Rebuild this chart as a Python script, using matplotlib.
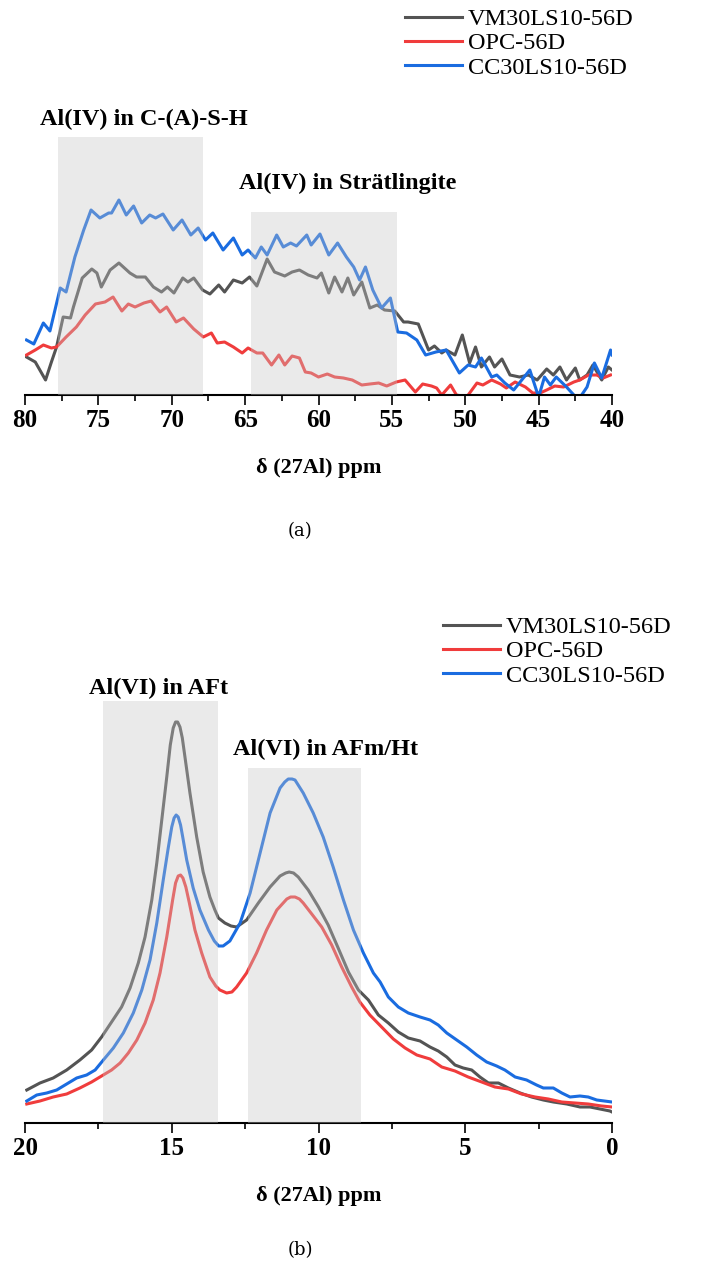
import matplotlib
matplotlib.use("Agg")
import matplotlib.pyplot as plt
from matplotlib.ticker import MultipleLocator

plt.rcParams['font.family'] = ['Liberation Serif', 'DejaVu Serif']

# ---------------- data: panel (a) Al(IV) region ----------------
a_vm_x = [79.9, 79.3, 78.6, 78.2, 77.85, 77.4, 76.9, 76.7, 76.1, 75.45, 75.1, 74.8, 74.2, 73.6, 72.85, 72.4,
          71.8, 71.25, 70.7, 70.3, 69.85, 69.25, 68.9, 68.5, 67.9, 67.4, 66.8, 66.4, 65.8, 65.2, 64.7, 64.2,
          63.5, 63.0, 62.3, 61.8, 61.3, 60.7, 60.1, 59.8, 59.3, 58.9, 58.4, 58.0, 57.6, 57.05, 56.5, 56.0,
          55.5, 54.8, 54.2, 53.9, 53.2, 52.5, 52.1, 51.6, 51.3, 50.7, 50.2, 49.7, 49.3, 48.9, 48.35, 48.0,
          47.5, 46.95, 46.3, 45.7, 45.1, 44.45, 44.0, 43.55, 43.1, 42.5, 42.2, 41.7, 41.3, 40.7, 40.25, 40.0]
a_vm_y = [38, 33, 15, 33, 48, 78, 77, 88, 117, 126, 122, 108, 125, 132, 122, 118,
          118, 108, 103, 108, 102, 117, 113, 117, 105, 101, 110, 103, 115, 112, 118, 109,
          136, 123, 119, 123, 125, 120, 117, 122, 102, 118, 103, 117, 100, 113, 87, 90,
          85, 84, 73, 73, 71, 45, 49, 42, 45, 40, 60, 32, 48, 28, 38, 28,
          36, 20, 18, 20, 15, 26, 20, 28, 15, 27, 15, 20, 30, 15, 28, 25]

a_opc_x = [79.9, 79.3, 78.75, 78.2, 77.85, 77.2, 76.5, 75.9, 75.2, 74.55, 74.0, 73.4, 72.96, 72.5, 71.9,
           71.4, 70.8, 70.35, 69.7, 69.2, 68.5, 67.85, 67.3, 66.9, 66.4, 65.8, 65.2, 64.8, 64.2, 63.8,
           63.2, 62.7, 62.3, 61.8, 61.3, 60.9, 60.5, 60.0, 59.4, 58.9, 58.3, 57.7, 57.05, 56.5, 55.9,
           55.35, 54.7, 54.1, 53.4, 52.9, 52.3, 51.95, 51.6, 51.0, 50.6, 49.9, 49.2, 48.8, 48.2, 47.6,
           47.2, 46.6, 45.9, 45.4, 44.9, 44.45, 43.9, 43.3, 42.6, 42.2, 41.6, 41.05, 40.6, 40.1]
a_opc_y = [40, 45, 50, 47, 48, 58, 68, 80, 91, 93, 98, 84, 91, 88, 92,
           94, 83, 88, 73, 77, 66, 58, 62, 52, 53, 48, 42, 47, 42, 42,
           30, 40, 30, 39, 37, 23, 22, 18, 21, 18, 17, 15, 10, 11, 12,
           9, 13, 15, 3, 11, 9, 7, 0, 10, 0, -2, 12, 10, 15, 11,
           7, 13, 8, 2, 2, 5, 9, 8, 13, 15, 20, 20, 17, 20]

a_cc_x = [79.9, 79.4, 78.75, 78.3, 77.6, 77.2, 76.6, 76.0, 75.5, 74.9, 74.3, 74.1, 73.6, 73.1, 72.6,
          72.05, 71.5, 71.1, 70.6, 69.9, 69.3, 68.7, 68.2, 67.7, 67.2, 66.5, 65.8, 65.2, 64.8, 64.3,
          63.9, 63.5, 62.85, 62.4, 61.9, 61.5, 60.8, 60.5, 59.9, 59.3, 58.7, 58.1, 57.6, 57.2, 56.8,
          56.3, 55.7, 55.1, 54.6, 54.0, 53.3, 52.7, 52.0, 51.3, 50.4, 49.8, 49.3, 48.9, 48.2, 47.85,
          47.3, 46.7, 46.15, 45.6, 45.0, 44.6, 44.2, 43.8, 43.1, 42.6, 42.3, 41.7, 41.2, 40.7, 40.1, 40.0]
a_cc_y = [55, 51, 72, 64, 107, 103, 138, 165, 185, 177, 182, 182, 195, 180, 189,
          172, 180, 177, 181, 165, 175, 160, 167, 155, 162, 145, 157, 140, 145, 137,
          148, 140, 160, 148, 152, 149, 160, 150, 161, 140, 152, 138, 128, 115, 128,
          105, 87, 97, 63, 62, 55, 40, 43, 45, 22, 30, 28, 37, 18, 20,
          12, 5, 15, 25, -2, 18, 10, 18, 8, 0, -5, 8, 32, 17, 45, 40]

# ---------------- data: panel (b) Al(VI) region ----------------
b_vm_x = [19.94, 19.49, 19.04, 18.58, 18.13, 17.73, 17.39, 17.05, 16.71, 16.42, 16.14, 15.91, 15.68,
          15.51, 15.34, 15.17, 15.05, 14.95, 14.87, 14.8, 14.72, 14.64, 14.55, 14.38, 14.15, 13.93,
          13.7, 13.53, 13.41, 13.19, 12.98, 12.79, 12.45, 12.05, 11.65, 11.31, 11.12, 11.0, 10.85,
          10.69, 10.35, 10.0, 9.67, 9.33, 8.98, 8.64, 8.3, 7.96, 7.62, 7.28, 6.94, 6.54, 6.2, 5.92,
          5.63, 5.35, 5.07, 4.78, 4.5, 4.21, 3.87, 3.53, 3.13, 2.74, 2.34, 2.0, 1.54, 1.09, 0.75,
          0.41, 0.07, 0.0]
b_vm_y = [33, 40, 45, 53, 63, 73, 86, 101, 116, 135, 160, 186, 223,
          260, 303, 346, 378, 395, 401, 401, 396, 385, 366, 330, 286, 251,
          226, 213, 205, 200, 197, 196, 203, 220, 236, 247, 250, 251, 250,
          246, 233, 216, 198, 175, 151, 133, 123, 108, 100, 91, 85, 82, 76, 72,
          66, 58, 55, 53, 46, 40, 40, 35, 30, 26, 23, 21, 19, 16, 16,
          14, 12, 11]

b_opc_x = [19.94, 19.49, 19.04, 18.58, 18.13, 17.73, 17.39, 17.05, 16.76, 16.48, 16.19, 15.91, 15.63,
           15.4, 15.17, 14.97, 14.87, 14.78, 14.7, 14.62, 14.52, 14.4, 14.21, 13.98, 13.7, 13.5,
           13.36, 13.13, 12.95, 12.79, 12.45, 12.11, 11.77, 11.42, 11.08, 10.95, 10.8, 10.65, 10.52,
           10.23, 9.89, 9.55, 9.21, 8.87, 8.59, 8.25, 7.85, 7.45, 7.05, 6.65, 6.2, 5.8, 5.35, 4.9,
           4.44, 3.99, 3.53, 3.08, 2.62, 2.17, 1.71, 1.26, 0.81, 0.35, 0.0]
b_opc_y = [19, 22, 26, 29, 35, 41, 47, 53, 60, 70, 83, 100, 123,
           150, 186, 223, 240, 247, 248, 245, 236, 220, 193, 170, 146, 137,
           133, 130, 131, 136, 150, 170, 193, 213, 224, 226, 226, 224, 220,
           209, 196, 178, 156, 136, 121, 108, 96, 84, 75, 68, 64, 56, 52, 46,
           41, 36, 34, 29, 26, 24, 21, 20, 19, 17, 16]

b_cc_x = [19.94, 19.6, 19.26, 18.92, 18.58, 18.24, 17.9, 17.61, 17.33, 16.99, 16.65, 16.31, 16.02,
          15.74, 15.51, 15.29, 15.12, 15.0, 14.92, 14.85, 14.78, 14.7, 14.62, 14.49, 14.27, 14.04,
          13.75, 13.55, 13.4, 13.25, 13.02, 12.67, 12.33, 11.99, 11.65, 11.31, 11.15, 11.03, 10.9,
          10.8, 10.52, 10.18, 9.84, 9.5, 9.15, 8.81, 8.47, 8.13, 7.9, 7.62, 7.28, 6.94, 6.54, 6.2,
          5.92, 5.63, 5.29, 4.95, 4.61, 4.27, 3.93, 3.65, 3.3, 2.91, 2.57, 2.34, 2.0, 1.71, 1.43,
          1.09, 0.81, 0.52, 0.0]
b_cc_y = [22, 28, 30, 33, 39, 45, 48, 53, 63, 75, 90, 110, 133,
          163, 200, 243, 275, 296, 305, 308, 306, 298, 285, 263, 235, 213,
          193, 182, 177, 177, 182, 200, 230, 270, 310, 335, 341, 344, 344,
          343, 330, 310, 286, 256, 223, 193, 170, 150, 141, 126, 116, 110, 106, 103,
          98, 90, 83, 76, 68, 61, 57, 53, 46, 43, 38, 35, 35, 30, 26,
          27, 26, 23, 21]

series_labels = ['VM30LS10-56D', 'OPC-56D', 'CC30LS10-56D']
series_colors = ['#545454', '#f03c3c', '#1a6ce0']

a_regions = [(77.75, 67.9, 258), (64.6, 54.65, 183)]
b_regions = [(17.35, 13.42, 422), (12.4, 8.55, 355)]
a_notes = [("Al(IV) in C-(A)-S-H", 71.9, 270), ("Al(IV) in Strätlingite", 58.0, 206)]
b_notes = [("Al(VI) in AFt", 15.45, 429), ("Al(VI) in AFm/Ht", 9.75, 368)]

W, H = 702, 1273
fig = plt.figure(figsize=(W / 100, H / 100), dpi=100)

def make_ax(top_px, bottom_px, xlim, ylim, major, minor):
    ax = fig.add_axes([25 / W, 1 - bottom_px / H, 587 / W, (bottom_px - top_px) / H])
    ax.set_xlim(*xlim)
    ax.set_ylim(*ylim)
    for s in ('left', 'right', 'top'):
        ax.spines[s].set_visible(False)
    ax.spines['bottom'].set_linewidth(1.5)
    ax.set_yticks([])
    ax.xaxis.set_major_locator(MultipleLocator(major))
    ax.xaxis.set_minor_locator(MultipleLocator(minor))
    ax.tick_params(axis='x', which='major', length=7, width=1.2, direction='out', pad=3,
                   labelsize=18)
    ax.tick_params(axis='x', which='minor', length=4, width=1.2, direction='out')
    for lab in ax.get_xticklabels():
        lab.set_fontweight('bold')
    ax.set_xlabel('δ (27Al) ppm', fontsize=16, fontweight='bold', labelpad=19)
    return ax

# panel (a)
ax1 = make_ax(100, 395, (80, 40), (0, 295), 5, 2.5)
for xs, ys, lab, col in zip([a_vm_x, a_opc_x, a_cc_x], [a_vm_y, a_opc_y, a_cc_y],
                            series_labels, series_colors):
    ax1.plot(xs, ys, color=col, lw=2.2, label=lab, zorder=2, solid_joinstyle='round')
for x0, x1, top in a_regions:
    ax1.axvspan(x0, x1, ymin=0, ymax=top / 295, color=(199 / 255,) * 3, alpha=0.36, lw=0, zorder=3)
for txt, x, y in a_notes:
    ax1.text(x, y, txt, fontsize=17.5, fontweight='bold', ha='center', va='baseline', zorder=4)

# panel (b)
ax2 = make_ax(690, 1123, (20, 0), (0, 433), 5, 2.5)
for xs, ys, lab, col in zip([b_vm_x, b_opc_x, b_cc_x], [b_vm_y, b_opc_y, b_cc_y],
                            series_labels, series_colors):
    ax2.plot(xs, ys, color=col, lw=2.2, label=lab, zorder=2, solid_joinstyle='round')
for x0, x1, top in b_regions:
    ax2.axvspan(x0, x1, ymin=0, ymax=top / 433, color=(199 / 255,) * 3, alpha=0.36, lw=0, zorder=3)
for txt, x, y in b_notes:
    ax2.text(x, y, txt, fontsize=17.5, fontweight='bold', ha='center', va='baseline', zorder=4)

for ax, lx, ty in [(ax1, 405, 8), (ax2, 443, 616)]:
    ax.legend(loc='upper left', bbox_to_anchor=(lx / W, 1 - ty / H), bbox_transform=fig.transFigure,
              frameon=False, fontsize=17.5, handlelength=2.35, handletextpad=0.25, labelspacing=0.1,
              borderpad=0, borderaxespad=0)

fig.text(300 / W, 1 - 531 / H, '(a)', fontsize=13, ha='center', va='center',
         family=['DejaVu Serif'])
fig.text(300 / W, 1 - 1250 / H, '(b)', fontsize=13, ha='center', va='center',
         family=['DejaVu Serif'])

fig.savefig('out.png', dpi=100)
